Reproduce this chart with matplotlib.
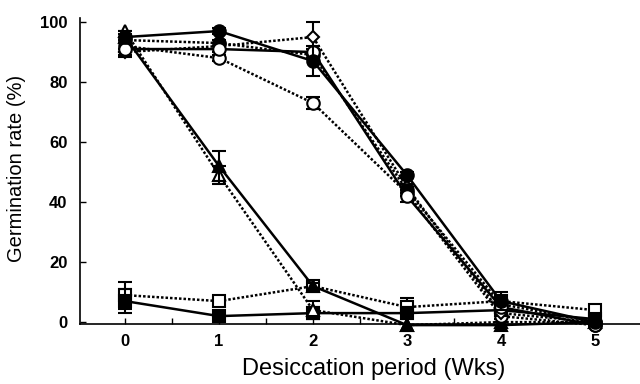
import matplotlib
matplotlib.use("Agg")
import matplotlib.pyplot as plt
from matplotlib.ticker import MultipleLocator

plt.rcParams['font.family'] = ['Liberation Sans', 'DejaVu Sans']

weeks = [0, 1, 2, 3, 4, 5]

# germination rate (%) for each seed lot
fill_circle_solid = [95, 97, 87, 49, 7, 0]
open_circle_solid = [91, 91, 90, 42, 5, -1]
open_circle_dot = [92, 88, 73, 43, 2, -1]
open_diamond_dot = [90, 92, 95, 45, 3, 0]
fill_circle_dot = [94, 93, 89, 44, 6, 0]
fill_triangle_solid = [95, 52, 12, -1, -1, 0]
open_triangle_dot = [97, 49, 4, -1, 0, 0]
open_square_dot = [9, 7, 12, 5, 7, 4]
fill_square_solid = [7, 2, 3, 3, 4, 1]

# error bars (half widths), 0 where none can be seen
err_fill_circle_solid = [2, 1, 5, 1, 3, 0]
err_open_circle_solid = [2, 1, 1, 2, 1, 0]
err_open_circle_dot = [2, 1, 2, 1, 1, 0]
err_open_diamond_dot = [1, 1, 5, 1, 1, 0]
err_fill_circle_dot = [1, 1, 1, 1, 1, 0]
err_fill_triangle_solid = [1, 5, 1, 0, 0, 0]
err_open_triangle_dot = [8.5, 3, 3, 0, 0, 0]
err_open_triangle_dot_up = [0, 3, 3, 0, 0, 0]   # upper bar at week 0 is off the top
err_open_square_dot = [4.5, 0, 1, 3, 1, 0]
err_fill_square_solid = [4, 0, 2, 2, 1, 0]

series = [
    (open_square_dot, [err_open_square_dot, err_open_square_dot], 's', 'white', ':'),
    (fill_square_solid, [err_fill_square_solid, err_fill_square_solid], 's', 'black', '-'),
    (open_triangle_dot, [err_open_triangle_dot, err_open_triangle_dot_up], '^', 'white', ':'),
    (fill_triangle_solid, [err_fill_triangle_solid, err_fill_triangle_solid], '^', 'black', '-'),
    (open_circle_dot, [err_open_circle_dot, err_open_circle_dot], 'o', 'white', ':'),
    (open_diamond_dot, [err_open_diamond_dot, err_open_diamond_dot], 'D', 'white', ':'),
    (fill_circle_dot, [err_fill_circle_dot, err_fill_circle_dot], 'o', 'black', ':'),
    (open_circle_solid, [err_open_circle_solid, err_open_circle_solid], 'o', 'white', '-'),
    (fill_circle_solid, [err_fill_circle_solid, err_fill_circle_solid], 'o', 'black', '-'),
]

fig = plt.figure(figsize=(6.4, 3.84), dpi=100)
ax = fig.add_axes([0.125, 0.156, 0.875, 0.81])

for vals, errs, mk, face, ls in series:
    dashes = (0, (1, 0.8)) if ls == ':' else '-'
    ax.errorbar(weeks, vals, yerr=errs, fmt='none', ecolor='black',
                elinewidth=1.5, capsize=5, capthick=1.5)
    ax.plot(weeks, vals, color='black', linestyle=dashes, linewidth=1.8,
            marker=mk, markersize=9 if mk != 'D' else 6.5,
            markerfacecolor=face, markeredgecolor='black', markeredgewidth=1.5,
            clip_on=False)

ax.set_xlim(-0.48, 5.48)
ax.set_ylim(-0.66, 103)
ax.spines['top'].set_visible(False)
ax.spines['right'].set_visible(False)
ax.spines['left'].set_bounds(-0.66, 101.5)
ax.spines['left'].set_linewidth(1.2)
ax.spines['bottom'].set_linewidth(1.2)

ax.set_yticks([0, 20, 40, 60, 80, 100])
ax.set_xticks(weeks)
ax.xaxis.set_minor_locator(MultipleLocator(0.5))
ax.tick_params(axis='both', direction='in', length=4, width=1, labelsize=12)
ax.tick_params(axis='x', which='minor', direction='in', length=4, width=1)
ax.tick_params(axis='x', pad=7)
ax.tick_params(axis='y', pad=9)
for lab in ax.get_xticklabels() + ax.get_yticklabels():
    lab.set_fontweight('bold')

ax.set_xlabel("Desiccation period (Wks)", fontsize=17)
ax.xaxis.set_label_coords(0.525, -0.11)
ax.set_ylabel("Germination rate (%)", fontsize=14.5, labelpad=10)

plt.savefig("out.png", dpi=100)
